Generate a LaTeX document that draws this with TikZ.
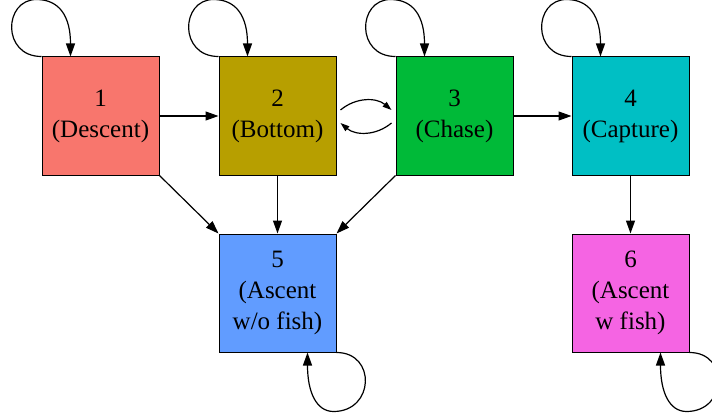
\documentclass[tikz,border=0pt]{standalone}
\usepackage{fontspec}
\setmainfont{Liberation Serif}
\usetikzlibrary{arrows.meta,calc}
\definecolor{cdescent}{HTML}{F8766D}
\definecolor{cbottom}{HTML}{B79F00}
\definecolor{cchase}{HTML}{00BA38}
\definecolor{ccapture}{HTML}{00BFC4}
\definecolor{cnofish}{HTML}{619CFF}
\definecolor{cfish}{HTML}{F564E3}
\begin{document}
\begin{tikzpicture}
  [x=1pt,y=1pt,line width=1.2pt,
   every node/.style={draw,line width=1pt,minimum width=117pt,minimum height=118pt,inner sep=0pt,
     align=center,font=\fontsize{25}{31}\selectfont},
   >={Triangle[length=13pt,width=9pt]},
   small/.style={-{Triangle[length=9pt,width=6pt]}}]
  \clip (0,0) rectangle (712,416);
  \node[fill=cdescent] (n1) at (100.5,300) {1\\(Descent)};
  \node[fill=cbottom]  (n2) at (277.5,300) {2\\(Bottom)};
  \node[fill=cchase]   (n3) at (454.5,300) {3\\(Chase)};
  \node[fill=ccapture] (n4) at (630.5,300) {4\\(Capture)};
  \node[fill=cnofish]  (n5) at (277.5,123) {5\\(Ascent\\w/o fish)};
  \node[fill=cfish]    (n6) at (630.5,123) {6\\(Ascent\\w fish)};

  \foreach \from/\to in {n1/n2,n2/n5,n3/n4,n4/n6,n1.south east/n5.north west,
   n3.south west/n5.north east}
    \draw[->] (\from) -- (\to);

  % self loops
  \foreach \n in {n1,n2,n3,n4}
    \draw[->] (\n.north west) .. controls ($(\n.north west)+(-40,0)$) and ($(\n.north west)+(-38,57)$)
      .. ($(\n.north west)+(-5,57)$) .. controls ($(\n.north west)+(18,57)$) and ($(\n.north west)+(29,40)$)
      .. ([xshift=29pt]\n.north west);
  \foreach \n in {n5,n6}
    \draw[->] (\n.south east) .. controls ($(\n.south east)+(40,0)$) and ($(\n.south east)+(38,-59)$)
      .. ($(\n.south east)+(-3,-59)$) .. controls ($(\n.south east)+(-20,-59)$) and ($(\n.south east)+(-29,-40)$)
      .. ([xshift=-29pt]\n.south east);

  \draw[small] ([xshift=4pt,yshift=6pt]n2.east) to[bend left=40] ([xshift=-4pt,yshift=6pt]n3.west);
  \draw[small] ([xshift=-4pt,yshift=-7pt]n3.west) to[bend left=40] ([xshift=4pt,yshift=-7pt]n2.east);
\end{tikzpicture}
\end{document}
